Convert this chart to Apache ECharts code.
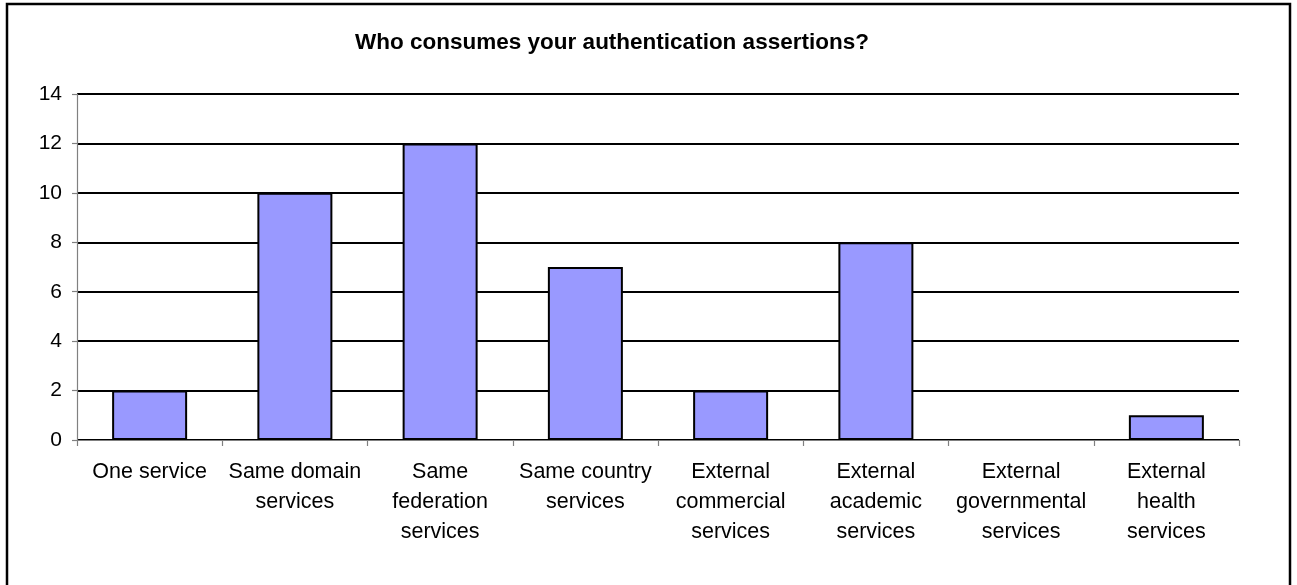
<!DOCTYPE html>
<html>
<head>
<meta charset="utf-8">
<style>
  html, body { margin: 0; padding: 0; background: #ffffff; }
  #chart { width: 1297px; height: 585px; }
</style>
<script src="https://cdn.jsdelivr.net/npm/echarts@6/dist/echarts.min.js"></script>
</head>
<body>
<div id="chart"></div>
<script>
// Survey answers: who consumes the authentication assertions
const titleText = 'Who consumes your authentication assertions?';
const categories = [
  'One service',
  'Same domain\nservices',
  'Same\nfederation\nservices',
  'Same country\nservices',
  'External\ncommercial\nservices',
  'External\nacademic\nservices',
  'External\ngovernmental\nservices',
  'External\nhealth\nservices'
];
const counts = [2, 10, 12, 7, 2, 8, 0, 1];
const yTicks = [0, 2, 4, 6, 8, 10, 12, 14];

const fontFamily = '"Liberation Sans", Arial, sans-serif';
const chart = echarts.init(document.getElementById('chart'), null, { renderer: 'canvas' });

chart.setOption({
  animation: false,
  backgroundColor: '#ffffff',
  title: {
    text: titleText,
    left: 607,
    top: 26,
    textAlign: 'center',
    textStyle: { fontFamily, fontSize: 22.5, fontWeight: 'bold', color: '#000000' }
  },
  graphic: [{
    type: 'rect',
    shape: { x: 7, y: 4, width: 1283, height: 620 },
    style: { fill: 'none', stroke: '#000000', lineWidth: 2.5 },
    silent: true
  }],
  grid: { left: 77, right: 58, top: 94, bottom: 145 },
  xAxis: {
    type: 'category',
    data: categories,
    z: 5,
    axisLine: { show: true, lineStyle: { color: '#808080', width: 1.2 } },
    axisTick: { show: true, length: 6, alignWithLabel: false, lineStyle: { color: '#808080', width: 1.2 } },
    axisLabel: {
      interval: 0,
      margin: 17,
      fontFamily,
      fontSize: 21.5,
      lineHeight: 30,
      color: '#000000',
      align: 'center'
    },
    splitLine: { show: false }
  },
  yAxis: {
    type: 'value',
    min: yTicks[0],
    max: yTicks[yTicks.length - 1],
    interval: 2,
    axisLine: { show: true, lineStyle: { color: '#808080', width: 1.2 } },
    axisTick: { show: true, length: 5, lineStyle: { color: '#808080', width: 1.2 } },
    axisLabel: { margin: 15, fontFamily, fontSize: 21, color: '#000000' },
    splitLine: { show: true, lineStyle: { color: '#000000', width: 2 } }
  },
  series: [{
    type: 'bar',
    data: counts,
    barWidth: 75,
    itemStyle: { color: '#9999ff', borderColor: '#000000', borderWidth: 2 },
    label: { show: false }
  }]
});
</script>
</body>
</html>
